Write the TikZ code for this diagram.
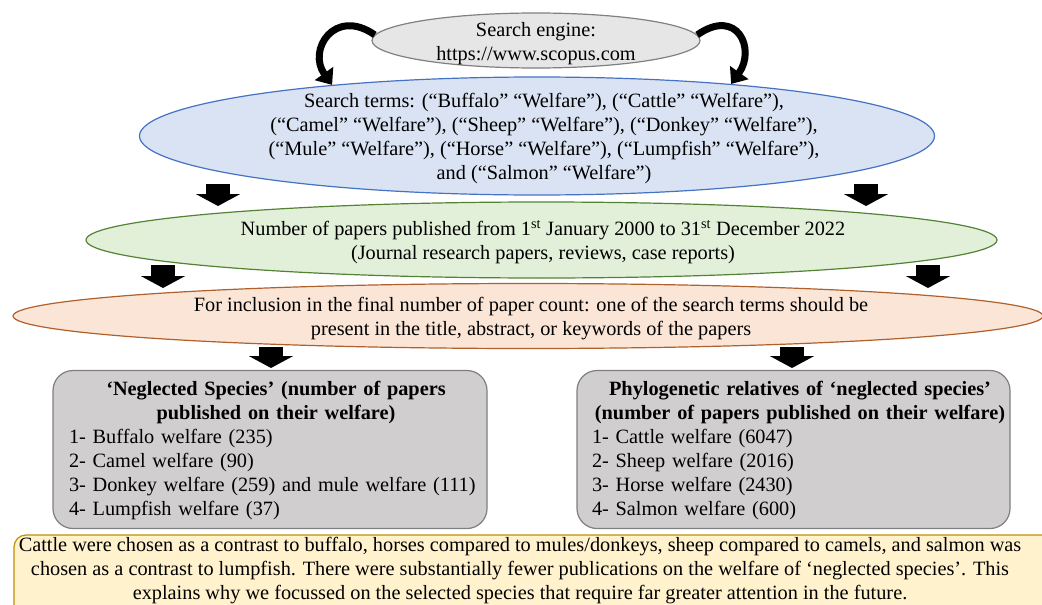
\documentclass[tikz,border=0pt]{standalone}
\usepackage{fontspec}
\setmainfont{Liberation Serif}
\usetikzlibrary{shapes.geometric,arrows.meta}
\definecolor{enginefill}{HTML}{E7E6E6}
\definecolor{engineline}{HTML}{808080}
\definecolor{termsfill}{HTML}{DAE3F3}
\definecolor{termsline}{HTML}{4472C4}
\definecolor{countfill}{HTML}{E2F0D9}
\definecolor{countline}{HTML}{548235}
\definecolor{rulefill}{HTML}{FBE5D6}
\definecolor{ruleline}{HTML}{B0602A}
\definecolor{boxfill}{HTML}{D0CECE}
\definecolor{boxline}{HTML}{7F7F7F}
\definecolor{notefill}{HTML}{FFF2CC}
\definecolor{noteline}{HTML}{BF9000}
\begin{document}
\begin{tikzpicture}[x=1pt,y=-1pt,
    oval/.style={ellipse, line width=1.2pt, inner sep=0pt},
    txt/.style={align=center, inner sep=0pt, font=\fontsize{20.3}{24}\selectfont},
    graybox/.style={rounded corners=20pt, draw=boxline, fill=boxfill, line width=1.2pt, inner sep=0pt},
    blockarrow/.style={line width=24pt, -{Triangle[length=12pt,width=44pt]}},
    curvearrow/.style={line width=7pt, -{Triangle[length=14pt,width=22pt]}}] %Búsqueda de artículos
    \useasboundingbox (0,0) rectangle (1042,605);
    \clip (0,0) rectangle (1042,605);

    % elipses
    \node[oval, draw=engineline, fill=enginefill, minimum width=328pt, minimum height=55pt] (engine) at (536,40.5) {};
    \node[oval, draw=termsline, fill=termsfill, minimum width=795pt, minimum height=118pt] (terms) at (537,136) {};
    \node[oval, draw=countline, fill=countfill, minimum width=911pt, minimum height=76pt] (count) at (541.5,240) {};
    \node[oval, draw=ruleline, fill=rulefill, minimum width=1030pt, minimum height=65pt] (rule) at (528,316) {};

    \node[txt] (enginetext) at (536,44) {Search engine:\\https://www.scopus.com};
    \node[txt] (termstext) at (544,139) {Search terms: (“Buffalo” “Welfare”), (“Cattle” “Welfare”),\\
        (“Camel” “Welfare”), (“Sheep” “Welfare”), (“Donkey” “Welfare”),\\
        (“Mule” “Welfare”), (“Horse” “Welfare”), (“Lumpfish” “Welfare”),\\
        and (“Salmon” “Welfare”)};
    \node[txt] (counttext) at (543,242) {Number of papers published from 1\textsuperscript{st} January 2000 to 31\textsuperscript{st} December 2022\\
        (Journal research papers, reviews, case reports)};
    \node[txt] (ruletext) at (531,319) {For inclusion in the final number of paper count: one of the search terms should be\\
        present in the title, abstract, or keywords of the papers};

    % cajas
    \node[graybox, minimum width=434pt, minimum height=158pt] (neglected) at (270,449.5) {};
    \node[graybox, minimum width=433pt, minimum height=158pt] (relatives) at (793.5,449.5) {};
    \node[txt, align=left, text width=414pt] (neglectedtext) at (276,451) {{\centering\bfseries ‘Neglected Species’ (number of papers\\ published on their welfare)\par}
        1- Buffalo welfare (235)\\
        2- Camel welfare (90)\\
        3- Donkey welfare (259) and mule welfare (111)\\
        4- Lumpfish welfare (37)};
    \node[txt, align=left, text width=416pt] (relativestext) at (800,451) {{\centering\bfseries Phylogenetic relatives of ‘neglected species’\\ (number of papers published on their welfare)\par}
        1- Cattle welfare (6047)\\
        2- Sheep welfare (2016)\\
        3- Horse welfare (2430)\\
        4- Salmon welfare (600)};

    \node[rounded corners=12pt, draw=noteline, fill=notefill, line width=1.2pt, minimum width=1046pt, minimum height=105pt] (note) at (537,587.5) {};
    \node[txt] (notetext) at (520,571) {Cattle were chosen as a contrast to buffalo, horses compared to mules/donkeys, sheep compared to camels, and salmon was\\
        chosen as a contrast to lumpfish. There were substantially fewer publications on the welfare of ‘neglected species’. This\\
        explains why we focussed on the selected species that require far greater attention in the future.};

    % flechas
    \draw[curvearrow] (engine.178) .. controls +(-40,-28) and +(-25,-35) .. (terms.166);
    \draw[curvearrow] (engine.2) .. controls +(40,-28) and +(25,-35) .. (terms.15);

    \coordinate (a1) at (218,184); \coordinate (b1) at (218,206);
    \coordinate (a2) at (866,184); \coordinate (b2) at (866,206);
    \coordinate (a3) at (163,265); \coordinate (b3) at (163,288);
    \coordinate (a4) at (928,265); \coordinate (b4) at (928,288);
    \coordinate (a5) at (271,347); \coordinate (b5) at (271,368);
    \coordinate (a6) at (792,347); \coordinate (b6) at (792,368);
    \foreach \i in {1,...,6}
        \draw[blockarrow] (a\i) -- (b\i);
\end{tikzpicture}
\end{document}
